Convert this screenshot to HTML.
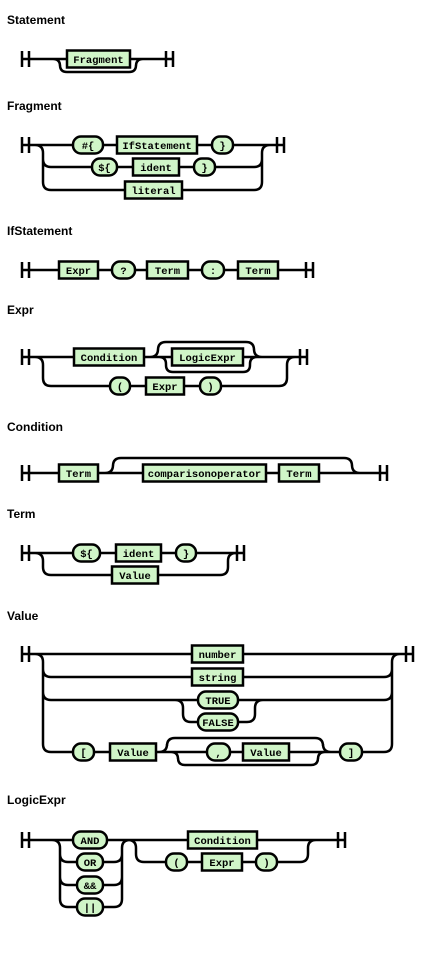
<!DOCTYPE html>
<html><head><meta charset="utf-8"><style>
html,body{margin:0;padding:0;background:#fff;width:435px;height:956px;overflow:hidden}
svg{display:block}
.t{font:bold 12px "Liberation Sans",sans-serif;fill:#000}
.l{font:bold 10.5px "Liberation Mono",monospace;fill:#000}
</style></head><body>
<svg id="s" width="435" height="956" viewBox="0 0 435 956"></svg>
<script>
const NS='http://www.w3.org/2000/svg';
const svg=document.getElementById('s');
const lines=[],shapes=[];
function mk(tag,attrs,parent){const e=document.createElementNS(NS,tag);for(const k in attrs)e.setAttribute(k,attrs[k]);(parent||svg).appendChild(e);return e;}
function P(d){lines.push(d);}
function H(x1,x2,y){P(`M${x1},${y} H${x2}`);}
// split from main row y1 to row y2 at vertical xv (left side)
function Ls(xv,y1,y2,r){r=r||8;const s=Math.sign(y2-y1);P(`M${xv-r},${y1} Q${xv},${y1} ${xv},${y1+r*s} V${y2-r*s} Q${xv},${y2} ${xv+r},${y2}`);}
function Rs(xv,y1,y2,r){r=r||8;const s=Math.sign(y2-y1);P(`M${xv-r},${y2} Q${xv},${y2} ${xv},${y2-r*s} V${y1+r*s} Q${xv},${y1} ${xv+r},${y1}`);}
function alt(xl,xr,y1,y2,r){Ls(xl,y1,y2,r);H(xl+(r||8),xr-(r||8),y2);Rs(xr,y1,y2,r);}
function bars(x,y){P(`M${x},${y-8} V${y+8} M${x+7},${y-8} V${y+8}`);}
function title(y,txt,name){const t=mk('text',{x:7,y:y,class:'t'});t.textContent=txt;

}
function node(x1,x2,y,label,pill,name){shapes.push([x1,x2,y,label,pill,name]);}
function box(x1,x2,y,l,n){node(x1,x2,y,l,false,n);}
function pill(x1,x2,y,l,n){node(x1,x2,y,l,true,n);}

// Statement
title(24,'Statement','statement-title');
bars(22,59);H(22,173,59);alt(60,136,59,72,7);box(67,130,59,'Fragment','fragment-node');bars(166,59);

// Fragment
title(110,'Fragment','fragment-title');
bars(22,145);H(22,284,145);
alt(43,262,145,167);alt(43,262,145,190);
pill(73,103,145,'#{','hash-brace-token');box(117,197,145,'IfStatement','ifstatement-node');pill(212,233,145,'}','close-brace-token');
pill(92,117,167,'${','dollar-brace-token');box(133,179,167,'ident','ident-node');pill(194,215,167,'}','close-brace-token-2');
box(125,182,190,'literal','literal-node');
bars(277,145);

// IfStatement
title(235,'IfStatement','ifstatement-title');
bars(22,270);H(22,313,270);
box(59,98,270,'Expr','expr-node');pill(112,135,270,'?','question-token');box(147,188,270,'Term','term-node');
pill(202,224,270,':','colon-token');box(238,278,270,'Term','term-node-2');bars(306,270);

// Expr
title(314,'Expr','expr-title');
bars(22,357);H(22,307,357);
alt(158,254,357,342);alt(166,250,357,372,7);
alt(43,287,357,386);
box(74,144,357,'Condition','condition-node');box(172,243,357,'LogicExpr','logicexpr-node');
pill(110,130,386,'(','open-paren-token');box(146,184,386,'Expr','expr-node-2');pill(200,221,386,')','close-paren-token');
bars(300,357);

// Condition
title(431,'Condition','condition-title');
bars(22,473);H(22,387,473);alt(113,352,473,458);
box(59,98,473,'Term','term-node-3');box(143,266,473,'comparisonoperator','comparisonoperator-node');box(279,319,473,'Term','term-node-4');
bars(380,473);

// Term
title(518,'Term','term-title');
bars(22,553);H(22,244,553);alt(43,228,553,575);
pill(73,100,553,'${','dollar-brace-token-2');box(116,161,553,'ident','ident-node-2');pill(176,196,553,'}','close-brace-token-3');
box(112,158,575,'Value','value-node');bars(237,553);

// Value
title(620,'Value','value-title');
bars(22,654);H(22,413,654);
alt(43,392,654,677);alt(43,392,654,700);alt(43,392,654,752);
alt(183,255,700,722);
alt(167,323,752,738);alt(178,318,752,765,7);
box(192,243,654,'number','number-node');box(192,243,677,'string','string-node');
pill(198,238,700,'TRUE','true-token');pill(198,238,722,'FALSE','false-token');
pill(73,94,752,'[','open-bracket-token');box(110,156,752,'Value','value-node-2');
pill(207,230,752,',','comma-token');box(243,289,752,'Value','value-node-3');pill(340,362,752,']','close-bracket-token');
bars(406,654);

// LogicExpr
title(804,'LogicExpr','logicexpr-title');
bars(22,840);H(22,345,840);
alt(60,122,840,862);alt(60,122,840,885);alt(60,122,840,907);
alt(136,308,840,862);
pill(73,107,840,'AND','and-token');pill(77,103,862,'OR','or-token');pill(77,103,885,'&&','and-symbol-token');pill(77,103,907,'||','or-symbol-token');
box(188,257,840,'Condition','condition-node-2');
pill(166,187,862,'(','open-paren-token-2');box(202,242,862,'Expr','expr-node-3');pill(256,277,862,')','close-paren-token-2');
bars(338,840);

const lp=mk('path',{d:lines.join(' '),fill:'none',stroke:'#000','stroke-width':2.5});


for(const [x1,x2,y,label,isPill,name] of shapes){
  const g=mk('g',{});
  
  
  mk('rect',{x:x1,y:y-8.5,width:x2-x1,height:17,rx:isPill?8:0,fill:'#d0f5c8',stroke:'#000','stroke-width':2.5},g);
  const t=mk('text',{x:(x1+x2)/2,y:y+3.8,'text-anchor':'middle',class:'l'},g);
  t.textContent=label;
}
</script>
</body></html>
